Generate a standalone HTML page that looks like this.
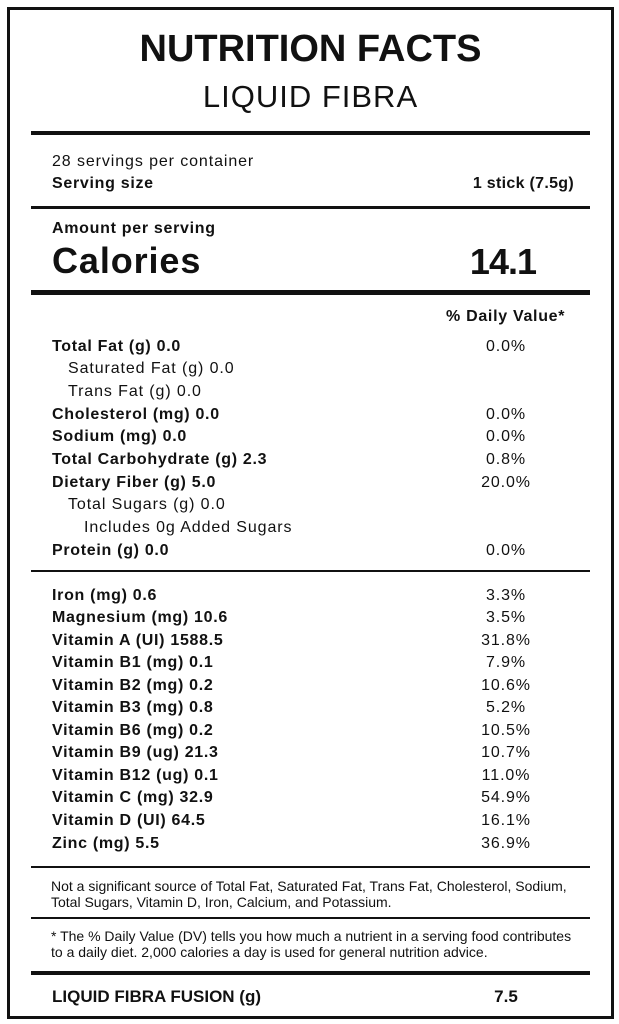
<!DOCTYPE html>
<html>
<head>
<meta charset="utf-8">
<style>
  html, body { margin:0; padding:0; background:#fff; }
  body { width:619px; height:1024px; position:relative; overflow:hidden; font-family:"Liberation Sans", Arial, sans-serif; color:#111; }
  .box { position:absolute; left:7px; top:7px; width:601px; height:1006px; border:3px solid #111; }
  .rule { position:absolute; left:31px; width:559px; background:#111; }
  .t { position:absolute; line-height:1; white-space:nowrap; }
  .b16 { font-size:16px; font-weight:bold; letter-spacing:0.7px; }
  .r16 { font-size:16px; font-weight:normal; letter-spacing:0.9px; }
  .pct { position:absolute; left:456px; width:100px; text-align:center; font-size:16px; letter-spacing:0.9px; line-height:1; white-space:nowrap; }
  .fn { font-size:14px; }
</style>
</head>
<body>
<div class="box"></div>

<div class="t" style="left:0;width:621px;text-align:center;top:29.8px;font-size:38px;font-weight:bold;">NUTRITION FACTS</div>
<div class="t" style="left:0;width:621px;text-align:center;top:80.8px;font-size:31px;letter-spacing:1px;">LIQUID FIBRA</div>

<div class="rule" style="top:131px;height:4px;"></div>

<div class="t r16" style="left:52px;top:153.5px;">28 servings per container</div>
<div class="t b16" style="left:52px;top:175.5px;">Serving size</div>
<div class="t b16" style="right:45px;top:175.5px;letter-spacing:0.3px;">1 stick (7.5g)</div>

<div class="rule" style="top:206px;height:3px;"></div>

<div class="t b16" style="left:52px;top:220.5px;">Amount per serving</div>
<div class="t" style="left:52px;top:242.5px;font-size:36px;font-weight:bold;letter-spacing:0.9px;">Calories</div>
<div class="t" style="right:83px;top:243.5px;font-size:36px;font-weight:bold;letter-spacing:-1px;">14.1</div>

<div class="rule" style="top:290px;height:5px;"></div>

<div class="t b16" style="left:446px;top:308.5px;">% Daily Value*</div>

<!-- Macro rows: baseline 352 + i*22.67 -->
<div class="t b16" style="left:52px;top:338.5px;">Total Fat (g) 0.0</div>
<div class="pct" style="top:338.5px;">0.0%</div>

<div class="t r16" style="left:68px;top:361.1px;">Saturated Fat (g) 0.0</div>

<div class="t r16" style="left:68px;top:383.8px;">Trans Fat (g) 0.0</div>

<div class="t b16" style="left:52px;top:406.5px;">Cholesterol (mg) 0.0</div>
<div class="pct" style="top:406.5px;">0.0%</div>

<div class="t b16" style="left:52px;top:429.2px;">Sodium (mg) 0.0</div>
<div class="pct" style="top:429.2px;">0.0%</div>

<div class="t b16" style="left:52px;top:451.8px;">Total Carbohydrate (g) 2.3</div>
<div class="pct" style="top:451.8px;">0.8%</div>

<div class="t b16" style="left:52px;top:474.5px;">Dietary Fiber (g) 5.0</div>
<div class="pct" style="top:474.5px;">20.0%</div>

<div class="t r16" style="left:68px;top:497.2px;">Total Sugars (g) 0.0</div>

<div class="t r16" style="left:84px;top:519.8px;">Includes 0g Added Sugars</div>

<div class="t b16" style="left:52px;top:542.5px;">Protein (g) 0.0</div>
<div class="pct" style="top:542.5px;">0.0%</div>

<div class="rule" style="top:570px;height:2px;"></div>

<!-- Vitamin rows: baseline 601 + i*22.55 -->
<div class="t b16" style="left:52px;top:587.5px;">Iron (mg) 0.6</div>
<div class="pct" style="top:587.5px;">3.3%</div>

<div class="t b16" style="left:52px;top:610.0px;">Magnesium (mg) 10.6</div>
<div class="pct" style="top:610.0px;">3.5%</div>

<div class="t b16" style="left:52px;top:632.6px;">Vitamin A (UI) 1588.5</div>
<div class="pct" style="top:632.6px;">31.8%</div>

<div class="t b16" style="left:52px;top:655.1px;">Vitamin B1 (mg) 0.1</div>
<div class="pct" style="top:655.1px;">7.9%</div>

<div class="t b16" style="left:52px;top:677.7px;">Vitamin B2 (mg) 0.2</div>
<div class="pct" style="top:677.7px;">10.6%</div>

<div class="t b16" style="left:52px;top:700.2px;">Vitamin B3 (mg) 0.8</div>
<div class="pct" style="top:700.2px;">5.2%</div>

<div class="t b16" style="left:52px;top:722.8px;">Vitamin B6 (mg) 0.2</div>
<div class="pct" style="top:722.8px;">10.5%</div>

<div class="t b16" style="left:52px;top:745.3px;">Vitamin B9 (ug) 21.3</div>
<div class="pct" style="top:745.3px;">10.7%</div>

<div class="t b16" style="left:52px;top:767.9px;">Vitamin B12 (ug) 0.1</div>
<div class="pct" style="top:767.9px;">11.0%</div>

<div class="t b16" style="left:52px;top:790.4px;">Vitamin C (mg) 32.9</div>
<div class="pct" style="top:790.4px;">54.9%</div>

<div class="t b16" style="left:52px;top:813.0px;">Vitamin D (UI) 64.5</div>
<div class="pct" style="top:813.0px;">16.1%</div>

<div class="t b16" style="left:52px;top:835.5px;">Zinc (mg) 5.5</div>
<div class="pct" style="top:835.5px;">36.9%</div>

<div class="rule" style="top:866px;height:2px;"></div>

<div class="t fn" style="left:51px;top:879.1px;">Not a significant source of Total Fat, Saturated Fat, Trans Fat, Cholesterol, Sodium,</div>
<div class="t fn" style="left:51px;top:895.1px;">Total Sugars, Vitamin D, Iron, Calcium, and Potassium.</div>

<div class="rule" style="top:917px;height:2px;"></div>

<div class="t fn" style="left:51px;top:929.1px;">* The % Daily Value (DV) tells you how much a nutrient in a serving food contributes</div>
<div class="t fn" style="left:51px;top:945.1px;">to a daily diet. 2,000 calories a day is used for general nutrition advice.</div>

<div class="rule" style="top:971px;height:4px;"></div>

<div class="t" style="left:52px;top:987.6px;font-size:17px;font-weight:bold;">LIQUID FIBRA FUSION (g)</div>
<div class="t" style="left:456px;width:100px;text-align:center;top:987.6px;font-size:17px;font-weight:bold;">7.5</div>

</body>
</html>
